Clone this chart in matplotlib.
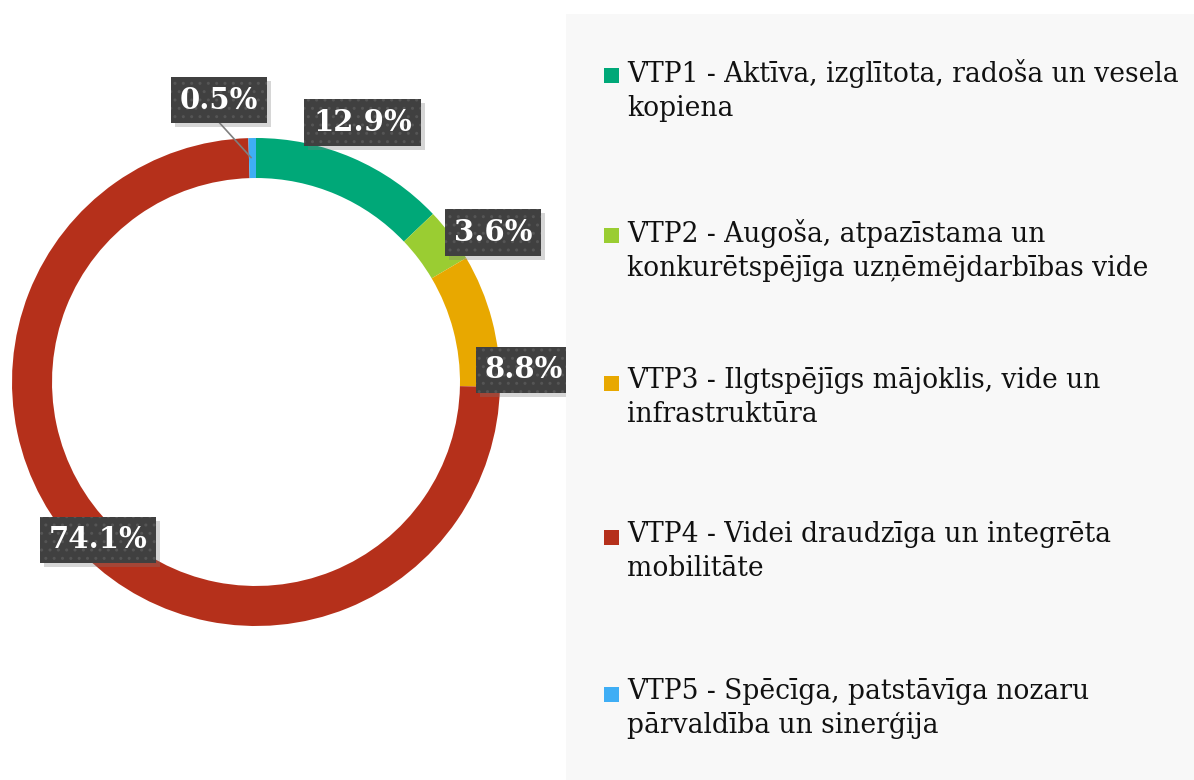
import matplotlib.pyplot as plt
import numpy as np
from matplotlib.patches import Rectangle

# data
categories = ['VTP1 - Aktīva, izglītota, radoša un vesela\nkopiena',
              'VTP2 - Augoša, atpazīstama un\nkonkurētspējīga uzņēmējdarbības vide',
              'VTP3 - Ilgtspējīgs mājoklis, vide un\ninfrastruktūra',
              'VTP4 - Videi draudzīga un integrēta\nmobilitāte',
              'VTP5 - Spēcīga, patstāvīga nozaru\npārvaldība un sinerģija']
shares = [12.9, 3.6, 8.8, 74.1, 0.5]
colors = ['#00A878', '#9ACD32', '#E8A800', '#B5301B', '#3FAEF5']

# where the data labels sit (angle in degrees, radius relative to the ring)
label_pos = [(67.7, 1.15), (32.2, 1.15), (2.6, 1.10), (-135.0, 0.915), (97.5, 1.165)]

W, H = 1194, 780
fig = plt.figure(figsize=(W / 100, H / 100), dpi=100)
fig.patch.set_facecolor('white')

# grey legend panel on the right
fig.patches.append(Rectangle((566 / W, 0), 1 - 566 / W, (H - 14) / H,
                             transform=fig.transFigure, facecolor='#F8F8F8',
                             edgecolor='none', zorder=0))

R = 244.0
cx, cy = 256.0, H - 382.0
x0, x1, y0, y1 = -1.05, 1.35, -1.2, 1.45
ax = fig.add_axes([(cx + x0 * R) / W, (cy + y0 * R) / H,
                   (x1 - x0) * R / W, (y1 - y0) * R / H])

ax.pie(shares, colors=colors, startangle=90, counterclock=False, radius=1,
       wedgeprops=dict(width=0.164, linewidth=0))
ax.set_xlim(x0, x1)
ax.set_ylim(y0, y1)
ax.set_aspect('equal')
ax.axis('off')

box = dict(boxstyle='square,pad=0.3', facecolor='#404040',
           edgecolor='#555555', linewidth=0, hatch='..')
labels = []
for i, v in enumerate(shares):
    a, r = label_pos[i]
    lx, ly = r * np.cos(np.radians(a)), r * np.sin(np.radians(a))
    t = ax.text(lx, ly, f'{v:.1f}%', ha='center', va='center', color='white',
                fontsize=21, fontweight='bold', family='DejaVu Serif', bbox=box,
                zorder=5)
    labels.append(t)

# soft shadow behind each label box
fig.canvas.draw()
for t in labels:
    bb = t.get_bbox_patch().get_window_extent()
    ax.add_patch(Rectangle((bb.x0 + 4, bb.y0 - 4), bb.width, bb.height,
                           transform=None, facecolor='#7a7a7a', alpha=0.3,
                           edgecolor='none', zorder=4.5))

# leader line for the smallest slice
mid = 90 - (sum(shares) - shares[-1] / 2) * 3.6
a, r = label_pos[-1]
ax.plot([0.92 * np.cos(np.radians(mid)), r * np.cos(np.radians(a))],
        [0.92 * np.sin(np.radians(mid)), r * np.sin(np.radians(a)) - 0.09],
        color='#7F7F7F', lw=1.2, zorder=4)

# legend
entry_y = [75, 235, 383, 537, 694]
for i, lab in enumerate(categories):
    y = 1 - entry_y[i] / H
    fig.patches.append(Rectangle((604 / W, y - 8 / H), 15 / W, 15 / H,
                                 transform=fig.transFigure, facecolor=colors[i],
                                 edgecolor='none', zorder=2))
    fig.text(627 / W, y + 16 / H, lab, ha='left', va='top', fontsize=19.1,
             family='DejaVu Serif', color='#111111', linespacing=1.33)

fig.savefig('out.png', dpi=100)
